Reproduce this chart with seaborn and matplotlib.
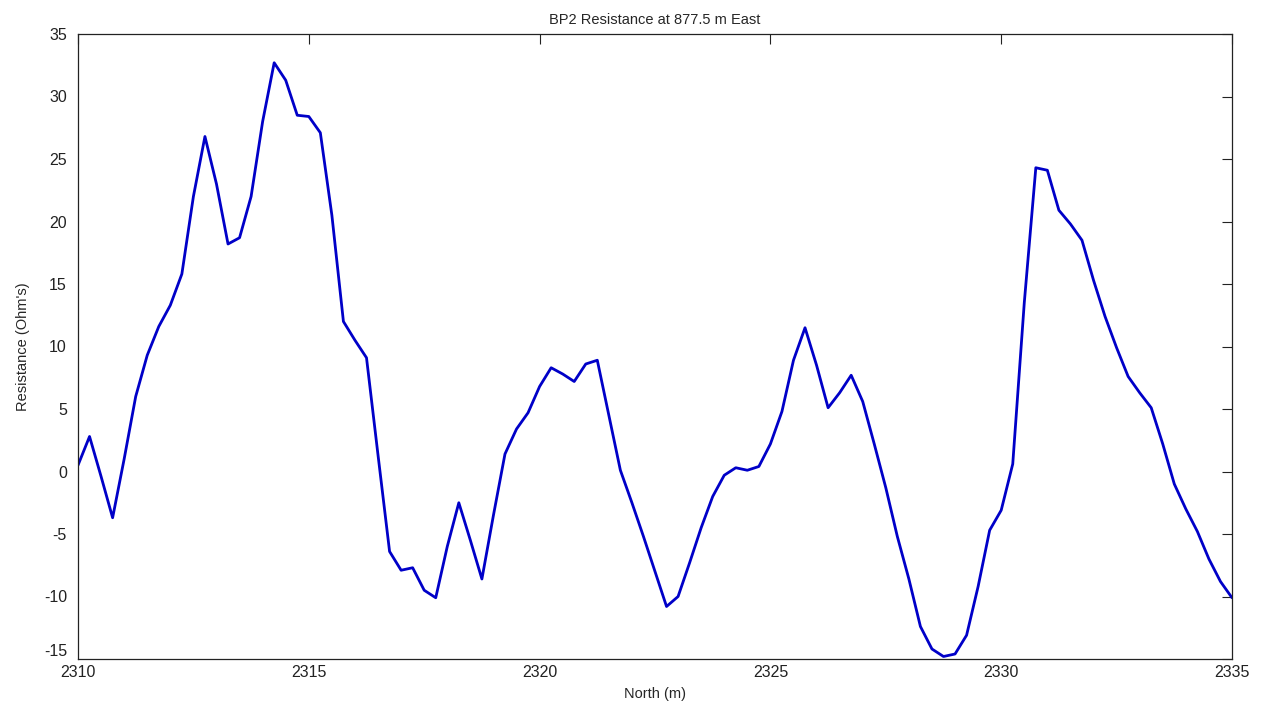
import numpy as np
import pandas as pd
import matplotlib
matplotlib.use("Agg")
import matplotlib.pyplot as plt
import seaborn as sns

# Survey line sampled every 0.25 m northing
north_start = 2310.0
north_step = 0.25
resistance = [
    0.5, 2.8, -0.4, -3.7, 1.0, 6.0, 9.3, 11.6, 13.3, 15.8,
    22.0, 26.8, 23.0, 18.2, 18.7, 22.0, 28.0, 32.7, 31.3, 28.5,
    28.4, 27.1, 20.5, 12.0, 10.5, 9.1, 1.3, -6.4, -7.9, -7.7,
    -9.5, -10.1, -6.0, -2.5, -5.5, -8.6, -3.5, 1.4, 3.4, 4.7,
    6.8, 8.3, 7.8, 7.2, 8.6, 8.9, 4.5, 0.1, -2.5, -5.2,
    -8.0, -10.8, -10.0, -7.3, -4.5, -2.0, -0.3, 0.3, 0.1, 0.4,
    2.2, 4.8, 8.9, 11.5, 8.5, 5.1, 6.3, 7.7, 5.6, 2.2,
    -1.3, -5.2, -8.6, -12.4, -14.2, -14.8, -14.6, -13.1, -9.2, -4.7,
    -3.1, 0.6, 13.5, 24.3, 24.1, 20.9, 19.8, 18.5, 15.3, 12.4,
    9.9, 7.6, 6.3, 5.1, 2.2, -1.0, -3.0, -4.8, -7.0, -8.8,
    -10.1,
]
north = [north_start + north_step * i for i in range(len(resistance))]

x_ticks = [2310, 2315, 2320, 2325, 2330, 2335]
y_ticks = [-15, -10, -5, 0, 5, 10, 15, 20, 25, 30, 35]

df = pd.DataFrame({"North (m)": north, "Resistance (Ohm's)": resistance})

sns.set_theme(style="white")
plt.rcParams["font.family"] = ["Liberation Sans", "DejaVu Sans"]
plt.rcParams["axes.unicode_minus"] = False
plt.rcParams["xtick.direction"] = "in"
plt.rcParams["ytick.direction"] = "in"

fig = plt.figure(figsize=(12.65, 7.07), dpi=100)
ax = fig.add_axes([78 / 1265, 48 / 707, (1232 - 78) / 1265, (659 - 34) / 707])

sns.lineplot(data=df, x="North (m)", y="Resistance (Ohm's)", ax=ax,
             color="#0000c8", linewidth=2.0)

ax.set_xlim(2310, 2335)
ax.set_ylim(-15, 35)
ax.set_xticks(x_ticks)
ax.set_yticks(y_ticks)
ax.tick_params(axis="both", which="both", direction="in", length=7, width=0.8,
               top=True, right=True, labelsize=11.5, colors="#222222")
ax.tick_params(axis="y", pad=8)
ax.tick_params(axis="x", pad=4.5)
# keep the lowest y label clear of the first x label
ax.get_yticklabels()[0].set_verticalalignment("bottom")
for s in ax.spines.values():
    s.set_color("#222222")
    s.set_linewidth(0.9)

ax.set_title("BP2 Resistance at 877.5 m East", fontsize=10.5, pad=7)
ax.set_xlabel("North (m)", fontsize=10.5, labelpad=5)
ax.set_ylabel("Resistance (Ohm's)", fontsize=10.5, labelpad=10)

fig.savefig("out.png", dpi=100, facecolor="white")
